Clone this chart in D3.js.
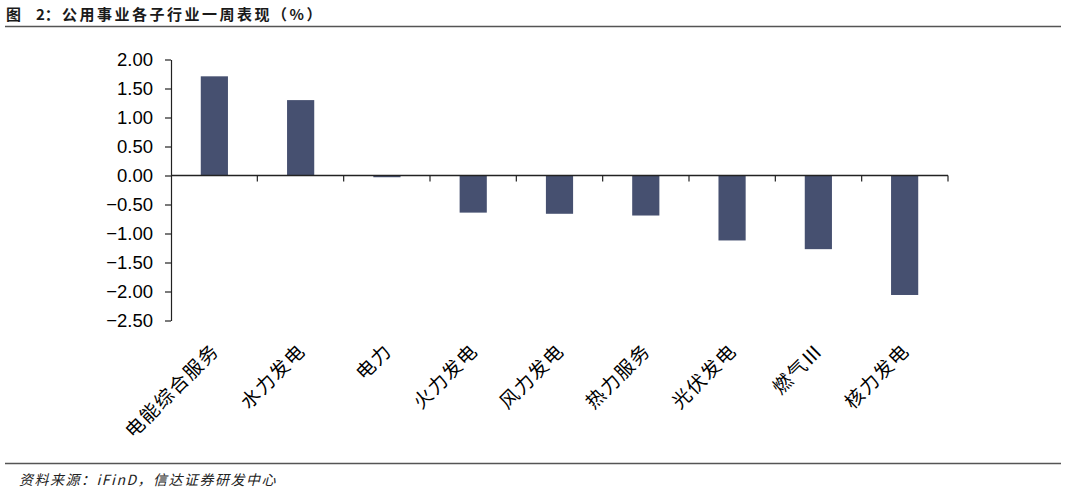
<!DOCTYPE html>
<html><head><meta charset="utf-8">
<script src="https://cdn.jsdelivr.net/npm/d3@7"></script>
<style>
html,body{margin:0;padding:0;background:#fff;}
svg{display:block;}
</style></head>
<body>
<svg id="c" width="1066" height="494"></svg>
<script>
const categories = ["电能综合服务","水力发电","电力","火力发电","风力发电","热力服务","光伏发电","燃气Ⅲ","核力发电"];
const values = [1.71, 1.30, -0.03, -0.64, -0.66, -0.69, -1.12, -1.27, -2.06];
const yTicks = [2.0, 1.5, 1.0, 0.5, 0.0, -0.5, -1.0, -1.5, -2.0, -2.5];
const titleParts = ["图", "2：", "公用事业各子行业一周表现（%）"];
const sourceText = "资料来源：iFinD，信达证券研发中心";

const svg = d3.select("#c");
const pLeft = 171, pRight = 948, pTop = 59.5, pBottom = 320.5;
const y = d3.scaleLinear().domain([-2.5, 2.0]).range([pBottom, pTop]);
const x = d3.scaleBand().domain(categories).range([pLeft, pRight]).paddingInner(0.685).paddingOuter(0.345);

// title
const title = svg.append("text").attr("y", 20)
  .attr("font-family", "'Noto Sans CJK SC', sans-serif").attr("font-weight", "bold")
  .attr("font-size", 15).attr("fill", "#1a1a1a");
const titleX = [6, 36, 62];
titleParts.forEach((t, i) => {
  title.append("tspan").attr("x", titleX[i]).attr("letter-spacing", i === 2 ? 2.5 : 0).text(t);
});
svg.append("line").attr("x1", 5).attr("x2", 1061).attr("y1", 26.5).attr("y2", 26.5)
  .attr("stroke", "#555").attr("stroke-width", 1.3);

// bars
svg.append("g").selectAll("rect").data(values).join("rect")
  .attr("x", (d, i) => x(categories[i]))
  .attr("width", x.bandwidth())
  .attr("y", d => y(Math.max(0, d)))
  .attr("height", d => Math.abs(y(d) - y(0)))
  .attr("fill", "#465070");

// y axis
const yAxis = d3.axisLeft(y).tickValues(yTicks).tickFormat(d3.format(".2f")).tickSize(6).tickSizeOuter(0);
const gy = svg.append("g").attr("transform", `translate(${pLeft},0)`).call(yAxis);
gy.select(".domain").attr("stroke", "#222").attr("stroke-width", 1.2);
gy.selectAll(".tick line").attr("stroke", "#222").attr("stroke-width", 1.2);
gy.selectAll(".tick text").attr("font-family", "'Liberation Sans', Arial, sans-serif")
  .attr("font-size", 18.5).attr("fill", "#000").attr("x", -18).attr("dy", "0.35em");

// x axis at zero
const boundaries = d3.range(categories.length + 1).map(i => pLeft + i * (pRight - pLeft) / categories.length);
const gx = svg.append("g");
gx.append("line").attr("x1", pLeft).attr("x2", pRight).attr("y1", y(0)).attr("y2", y(0))
  .attr("stroke", "#222").attr("stroke-width", 1.5);
gx.selectAll("line.t").data(boundaries.slice(1)).join("line").attr("class", "t")
  .attr("x1", d => d).attr("x2", d => d).attr("y1", y(0)).attr("y2", y(0) + 6)
  .attr("stroke", "#222").attr("stroke-width", 1.2);

// x labels
svg.append("g").selectAll("text").data(categories).join("text")
  .attr("transform", d => `translate(${x(d) + x.bandwidth() / 2 + 6},${352}) rotate(-45)`)
  .attr("text-anchor", "end")
  .attr("font-family", "'Noto Sans CJK SC', sans-serif")
  .attr("letter-spacing", 1.5)
  .attr("font-size", 19).attr("fill", "#000").text(d => d);

// source
svg.append("line").attr("x1", 5).attr("x2", 1061).attr("y1", 463.5).attr("y2", 463.5)
  .attr("stroke", "#555").attr("stroke-width", 1.3);
svg.append("text").attr("x", 19).attr("y", 485)
  .attr("font-family", "'Noto Sans CJK SC', serif").attr("font-style", "italic")
  .attr("letter-spacing", 1.5)
  .attr("font-size", 14).attr("fill", "#222").text(sourceText);
</script>
</body></html>
